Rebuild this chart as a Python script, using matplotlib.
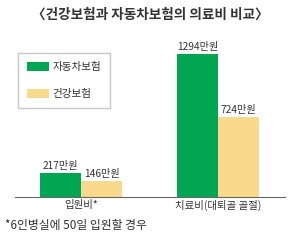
import matplotlib

matplotlib.use("Agg")
import matplotlib.pyplot as plt
import numpy as np

plt.rcParams["font.family"] = ["Noto Sans CJK KR", "DejaVu Sans"]

# data
categories = ["입원비*", "치료비(대퇴골 골절)"]
car_insurance = [217, 1294]      # 자동차보험
health_insurance = [146, 724]    # 건강보험
series_labels = ["자동차보험", "건강보험"]

GREEN = "#00a651"
YELLOW = "#f9da8c"
TEXT = "#333333"

W, H = 300, 241
fig = plt.figure(figsize=(W / 100, H / 100), dpi=100)
# axes in pixel units: x 15..285, baseline at y=197 (from top)
ax = fig.add_axes([15 / W, 44 / H, 270 / W, 157 / H])

x = np.arange(len(categories))
width = 0.30
b1 = ax.bar(x - width / 2, car_insurance, width, color=GREEN, label=series_labels[0])
b2 = ax.bar(x + width / 2, health_insurance, width, color=YELLOW, label=series_labels[1])

for bars, vals in ((b1, car_insurance), (b2, health_insurance)):
    for rect, v in zip(bars, vals):
        ax.annotate(f"{v}만원", (rect.get_x() + rect.get_width() / 2, v),
                    xytext=(0, 1.5), textcoords="offset points",
                    ha="center", va="bottom", fontsize=7.3, color=TEXT)

ax.set_xlim(-0.482, 1.489)
ax.set_ylim(0, 1420)
for side in ("top", "right", "left"):
    ax.spines[side].set_visible(False)
ax.spines["bottom"].set_color("#666666")
ax.spines["bottom"].set_linewidth(0.8)
ax.set_yticks([])
ax.set_xticks(x, categories, fontsize=7.5, color=TEXT)
ax.tick_params(axis="x", length=0, pad=2)

ax.legend(loc="upper left", bbox_to_anchor=(18 / W, 1 - 53 / H),
          bbox_transform=fig.transFigure, fontsize=7.6, frameon=True,
          fancybox=False, edgecolor="#bbbbbb", borderpad=0.85,
          handlelength=2.1, handleheight=1.0, labelspacing=1.55,
          handletextpad=0.3, borderaxespad=0, labelcolor=TEXT)

fig.text(0.5, 1 - 15 / H, "〈건강보험과 자동차보험의 의료비 비교〉",
         ha="center", va="center", fontsize=9.8, fontweight="bold", color=TEXT)
fig.text(5 / W, 1 - 226 / H, "*6인병실에 50일 입원할 경우",
         ha="left", va="center", fontsize=8.5, color=TEXT)

fig.savefig("out.png", dpi=100)
